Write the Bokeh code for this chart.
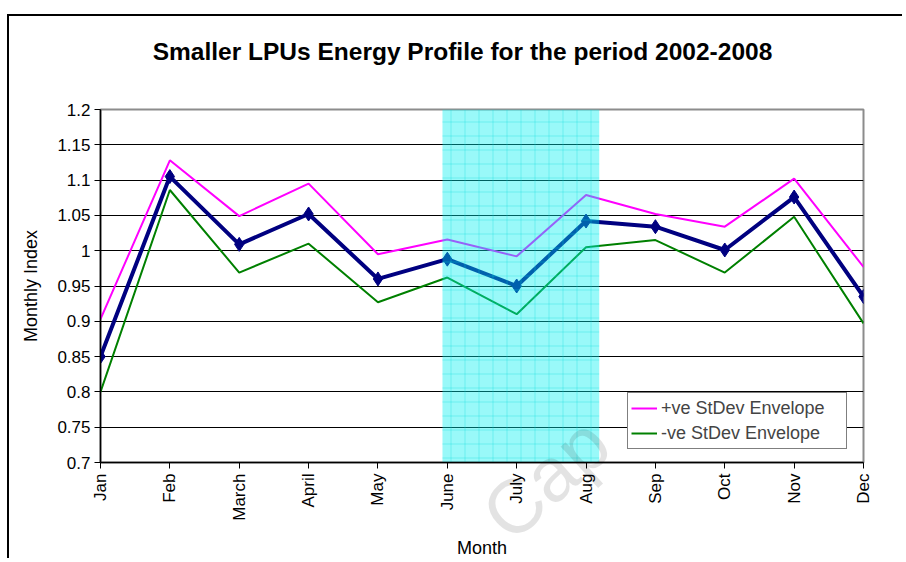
import math
from bokeh.plotting import figure
from bokeh.models import Range1d, FixedTicker, Legend, LegendItem, GridBox
from bokeh.core.properties import value
from bokeh.embed import file_html
from bokeh.resources import INLINE

# ---- data ----
months = ["Jan", "Feb", "March", "April", "May", "June", "July", "Aug", "Sep", "Oct", "Nov", "Dec"]
monthly_index = [0.850, 1.105, 1.009, 1.052, 0.960, 0.988, 0.950, 1.042, 1.034, 1.001, 1.076, 0.935]
plus_sd_env = [0.903, 1.128, 1.049, 1.095, 0.995, 1.016, 0.992, 1.079, 1.052, 1.034, 1.102, 0.977]
minus_sd_env = [0.800, 1.086, 0.969, 1.010, 0.927, 0.962, 0.910, 1.005, 1.015, 0.969, 1.048, 0.897]
y_ticks = [0.7, 0.75, 0.8, 0.85, 0.9, 0.95, 1.0, 1.05, 1.1, 1.15, 1.2]
y_tick_labels = ["0.7", "0.75", "0.8", "0.85", "0.9", "0.95", "1", "1.05", "1.1", "1.15", "1.2"]
highlight_start = 4.93   # shaded band, in month-index units (June..Aug)
highlight_end = 7.19
title_text = "Smaller LPUs Energy Profile for the period 2002-2008"
watermark_text = "Cap"

month_pos = list(range(len(months)))
FONT = "Liberation Sans"

p = figure(width=895, height=544,
           x_range=Range1d(0, len(months) - 1), y_range=Range1d(0.7, 1.2),
           output_backend="svg", toolbar_location=None,
           min_border_left=91, min_border_right=41, min_border_top=93, min_border_bottom=98,
           margin=(14, 0, 0, 7),
           styles={"border-top": "2px solid black", "border-left": "2px solid black"})

p.background_fill_color = "white"
p.border_fill_color = "white"
p.outline_line_color = "#8c8c8c"
p.outline_line_width = 2

# grid
p.xgrid.grid_line_color = None
p.ygrid.ticker = FixedTicker(ticks=y_ticks)
p.ygrid.grid_line_color = "black"
p.ygrid.grid_line_width = 1

# axes
p.yaxis.ticker = FixedTicker(ticks=y_ticks)
p.yaxis.major_label_overrides = {t: l for t, l in zip(y_ticks, y_tick_labels)}
p.xaxis.ticker = FixedTicker(ticks=month_pos)
p.xaxis.major_label_overrides = {i: m for i, m in zip(month_pos, months)}
p.xaxis.major_label_orientation = math.pi / 2
for ax in (p.xaxis, p.yaxis):
    ax.axis_line_color = "black"
    ax.axis_line_width = 1.5
    ax.major_tick_line_color = "black"
    ax.major_tick_in = 0
    ax.major_tick_out = 6
    ax.minor_tick_line_color = None
    ax.major_label_text_font = FONT
    ax.major_label_text_font_size = "17px"
    ax.major_label_text_color = "black"
    ax.axis_label_text_font = FONT
    ax.axis_label_text_font_size = "18px"
    ax.axis_label_text_font_style = "normal"
    ax.axis_label_text_color = "black"
p.xaxis.axis_label = "Month"
p.yaxis.axis_label = "Monthly Index"
p.xaxis.major_label_standoff = 5
p.yaxis.major_label_standoff = 4
p.xaxis.axis_label_standoff = 14
p.yaxis.axis_label_standoff = 13

# lines
r_plus = p.line(month_pos, plus_sd_env, line_color="#ff00ff", line_width=2)
r_minus = p.line(month_pos, minus_sd_env, line_color="#008000", line_width=2)
p.line(month_pos, monthly_index, line_color="#000080", line_width=4)
p.scatter(month_pos, monthly_index, marker="diamond", size=14,
          fill_color="#000080", line_color="#000080")

# shaded band on top
p.quad(left=[highlight_start], right=[highlight_end], bottom=[0.7], top=[1.2],
       fill_color="#00f0f0", fill_alpha=0.4, line_color=None,
       hatch_pattern="+", hatch_color="#00d8d8", hatch_alpha=0.3, hatch_scale=14, hatch_weight=1)

# legend
legend = Legend(items=[LegendItem(label="+ve StDev Envelope", renderers=[r_plus]),
                       LegendItem(label="-ve StDev Envelope", renderers=[r_minus])],
                location=(527, 13))
legend.border_line_color = "black"
legend.border_line_width = 1
legend.background_fill_color = "white"
legend.background_fill_alpha = 1
legend.label_text_font = FONT
legend.label_text_font_size = "18px"
legend.label_height = 24
legend.label_width = 182
legend.glyph_width = 26
legend.glyph_height = 24
legend.padding = 3
legend.spacing = 1
legend.margin = 0
legend.label_standoff = 4
p.add_layout(legend)

# transparent overlay (page-pixel coordinates) for the title and the faint watermark
OW, OH = 904, 560
ov = figure(width=OW, height=OH, x_range=Range1d(0, OW), y_range=Range1d(OH, 0),
            output_backend="svg", toolbar_location=None,
            min_border=0, min_border_left=0, min_border_right=0,
            min_border_top=0, min_border_bottom=0)
ov.axis.visible = False
ov.grid.visible = False
ov.outline_line_color = None
ov.background_fill_alpha = 0
ov.border_fill_alpha = 0
ov.text(x=[462], y=[51], text=[title_text], text_align="center", text_baseline="middle",
        text_font=value(FONT), text_font_size="24.5px", text_font_style="bold", text_color="black")
ov.text(x=[545], y=[478], text=[watermark_text], angle=math.radians(42),
        text_align="center", text_baseline="middle",
        text_font=value(FONT), text_font_size="76px", text_color="black", text_alpha=0.11)

# keep the overlay's frame independent of the chart's frame
for fig in (p, ov):
    if "frame_align" in fig.properties():
        fig.frame_align = False

layout = GridBox(children=[(p, 0, 0), (ov, 0, 0)])

open("out.html", "w").write(file_html(layout, INLINE))
